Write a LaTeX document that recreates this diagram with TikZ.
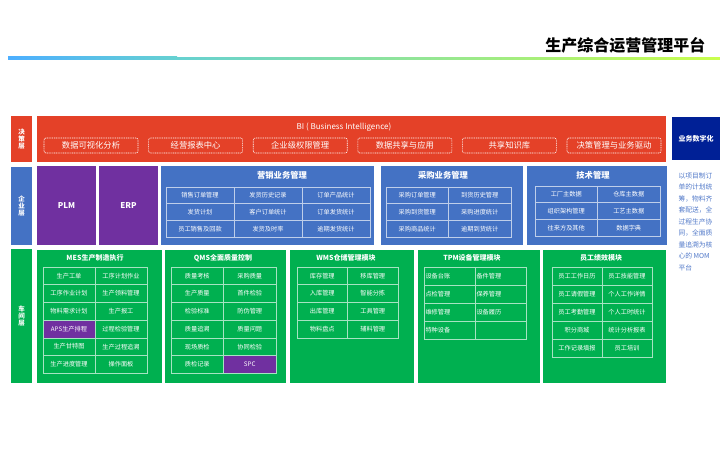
\documentclass[tikz,border=0pt]{standalone}
\usepackage{fontspec}
\setmainfont{Noto Sans CJK SC}
\usepackage{xcolor}
\usetikzlibrary{chains,positioning}

\definecolor{bired}{RGB}{228,65,40}
\definecolor{entblue}{RGB}{68,114,196}
\definecolor{shopgreen}{RGB}{0,176,80}
\definecolor{modpurple}{RGB}{112,48,160}
\definecolor{navyblue}{RGB}{0,32,150}
\definecolor{descblue}{RGB}{80,120,200}

\begin{document}
\begin{tikzpicture}[x=1pt,y=-1pt]
\useasboundingbox (0,0) rectangle (720,450);

\tikzstyle{layerbox}=[anchor=north west,inner sep=0pt,outer sep=0pt]
\tikzstyle{sidetag}=[text=white,align=center,font=\bfseries\fontsize{6.5}{7}\selectfont]
\tikzstyle{bluetitle}=[text=white,font=\bfseries\fontsize{8.3}{9}\selectfont]
\tikzstyle{greentitle}=[text=white,font=\bfseries\fontsize{7}{8}\selectfont]
\tikzstyle{bicell}=[draw=white,dash pattern=on 1pt off 0.8pt,rounded corners=2pt,line width=0.6pt,minimum width=94pt,minimum height=15pt,text=white,font=\fontsize{8.3}{9}\selectfont]
\tikzstyle{tcell}=[draw,line width=0.5pt,inner sep=0pt,text=white,font=\fontsize{6.2}{7}\selectfont]
\tikzstyle{bcell}=[tcell,draw=white!65!entblue,minimum height=16.7pt]
\tikzstyle{gcell}=[tcell,draw=white!65!shopgreen,minimum height=17.7pt]
\tikzstyle{salescell}=[bcell,minimum width=68pt]
\tikzstyle{buycell}=[bcell,minimum width=62.5pt]
\tikzstyle{mescell}=[gcell,minimum width=52pt]
\tikzstyle{qmscell}=[gcell,minimum width=52.5pt]
\tikzstyle{wmscell}=[gcell,minimum width=50.5pt]
\tikzstyle{tpmcell}=[gcell,minimum height=18pt,text width=48pt,inner xsep=1.5pt,align=left]
\tikzstyle{staffcell}=[gcell,minimum height=18pt,minimum width=50pt]

%% Title and rule
\node [anchor=east,font=\bfseries\fontsize{16}{18}\selectfont] (title) at (709,45) {生产综合运营管理平台};
\shade [left color=blue!45!cyan!70, right color=cyan!40!teal!60] (8,56.8) rectangle (177,59.4);
\shade [left color=cyan!40!teal!60, right color=yellow!70!green!70] (177,57.8) rectangle (720,59.2);

%% Decision layer
\node [layerbox,sidetag,fill=bired,minimum width=21pt,minimum height=46pt] (dtag) at (11,116) {决\\策\\层};
\node [layerbox,fill=bired,minimum width=629pt,minimum height=46pt] (bi) at (37,116) {};
\node [text=white,font=\fontsize{8}{9}\selectfont] (bititle) at (344,127) {BI ( Business Intelligence)};
\begin{scope}[shift={(91,145.5)},start chain=1 going right,node distance=10pt]
    \node [on chain=1,bicell] (bi1) {数据可视化分析};
    \node [on chain=1,bicell] (bi2) {经营报表中心};
    \node [on chain=1,bicell] (bi3) {企业级权限管理};
    \node [on chain=1,bicell] (bi4) {数据共享与应用};
    \node [on chain=1,bicell] (bi5) {共享知识库};
    \node [on chain=1,bicell] (bi6) {决策管理与业务驱动};
\end{scope}
\node [layerbox,fill=navyblue,text=white,font=\bfseries\fontsize{7}{8}\selectfont,minimum width=48pt,minimum height=43pt] (digital) at (672,117) {业务数字化};
\node [anchor=north west,align=left,text=descblue,font=\fontsize{6.8}{11.5}\selectfont] (desc) at (675,169)
    {以项目制订\\单的计划统\\筹，物料齐\\套配送，全\\过程生产协\\同，全面质\\量追溯为核\\心的 MOM\\平台};

%% Enterprise layer
\node [layerbox,sidetag,fill=entblue,minimum width=21pt,minimum height=78pt] (etag) at (11,167) {企\\业\\层};
\node [layerbox,fill=modpurple,text=white,font=\bfseries\fontsize{8}{9}\selectfont,minimum width=59pt,minimum height=79pt] (plm) at (37,166) {PLM};
\node [layerbox,fill=modpurple,text=white,font=\bfseries\fontsize{8}{9}\selectfont,minimum width=59pt,minimum height=79pt] (erp) at (99,166) {ERP};
\node [layerbox,fill=entblue,minimum width=213pt,minimum height=79pt] (sales) at (161,166) {};
\node [layerbox,fill=entblue,minimum width=142pt,minimum height=79pt] (buy) at (381,166) {};
\node [layerbox,fill=entblue,minimum width=140pt,minimum height=79pt] (tech) at (527,166) {};
\node [bluetitle] (salestitle) at (282,175) {营销业务管理};
\node [bluetitle] (buytitle) at (443,175) {采购业务管理};
\node [bluetitle] (techtitle) at (593,175) {技术管理};

\begin{scope}[shift={(200,195.35)},start chain=1 going below,node distance=-0.5pt]
    \node [on chain=1,salescell] (sa1) {销售订单管理};
    \node [on chain=1,salescell] (sa2) {发货计划};
    \node [on chain=1,salescell] (sa3) {员工销售及回款};
\end{scope}
\begin{scope}[shift={(268,195.35)},start chain=1 going below,node distance=-0.5pt]
    \node [on chain=1,salescell] (sb1) {发货历史记录};
    \node [on chain=1,salescell] (sb2) {客户订单统计};
    \node [on chain=1,salescell] (sb3) {发货及时率};
\end{scope}
\begin{scope}[shift={(336,195.35)},start chain=1 going below,node distance=-0.5pt]
    \node [on chain=1,salescell] (sc1) {订单产品统计};
    \node [on chain=1,salescell] (sc2) {订单发货统计};
    \node [on chain=1,salescell] (sc3) {逾期发货统计};
\end{scope}

\begin{scope}[shift={(417.25,195.35)},start chain=1 going below,node distance=-0.5pt]
    \node [on chain=1,buycell] (pa1) {采购订单管理};
    \node [on chain=1,buycell] (pa2) {采购到货管理};
    \node [on chain=1,buycell] (pa3) {采购商品统计};
\end{scope}
\begin{scope}[shift={(479.75,195.35)},start chain=1 going below,node distance=-0.5pt]
    \node [on chain=1,buycell] (pb1) {到货历史管理};
    \node [on chain=1,buycell] (pb2) {采购进度统计};
    \node [on chain=1,buycell] (pb3) {逾期到货统计};
\end{scope}

\begin{scope}[shift={(566.25,194.35)},start chain=1 going below,node distance=-0.5pt]
    \node [on chain=1,buycell] (ta1) {工厂主数据};
    \node [on chain=1,buycell] (ta2) {组织架构管理};
    \node [on chain=1,buycell] (ta3) {往来方及其他};
\end{scope}
\begin{scope}[shift={(628.75,194.35)},start chain=1 going below,node distance=-0.5pt]
    \node [on chain=1,buycell] (tb1) {仓库主数据};
    \node [on chain=1,buycell] (tb2) {工艺主数据};
    \node [on chain=1,buycell] (tb3) {数据字典};
\end{scope}

%% Shop floor layer
\node [layerbox,sidetag,fill=shopgreen,minimum width=21pt,minimum height=134pt] (stag) at (11,249) {车\\间\\层};
\node [layerbox,fill=shopgreen,minimum width=125pt,minimum height=133pt] (mes) at (37,250) {};
\node [layerbox,fill=shopgreen,minimum width=121pt,minimum height=133pt] (qms) at (165,250) {};
\node [layerbox,fill=shopgreen,minimum width=124pt,minimum height=133pt] (wms) at (290,250) {};
\node [layerbox,fill=shopgreen,minimum width=122pt,minimum height=133pt] (tpm) at (418,250) {};
\node [layerbox,fill=shopgreen,minimum width=123pt,minimum height=133pt] (staff) at (543,250) {};
\node [greentitle] (mestitle) at (95,258) {MES生产制造执行};
\node [greentitle] (qmstitle) at (223,258) {QMS全面质量控制};
\node [greentitle] (wmstitle) at (346,258) {WMS仓储管理模块};
\node [greentitle] (tpmtitle) at (472,258) {TPM设备管理模块};
\node [greentitle] (stafftitle) at (601,258) {员工绩效模块};

\begin{scope}[shift={(69,275.85)},start chain=1 going below,node distance=-0.5pt]
    \node [on chain=1,mescell] (ma1) {生产工单};
    \node [on chain=1,mescell] (ma2) {工序作业计划};
    \node [on chain=1,mescell] (ma3) {物料需求计划};
    \node [on chain=1,mescell,fill=modpurple] (ma4) {APS生产排程};
    \node [on chain=1,mescell] (ma5) {生产甘特图};
    \node [on chain=1,mescell] (ma6) {生产进度管理};
\end{scope}
\begin{scope}[shift={(121,275.85)},start chain=1 going below,node distance=-0.5pt]
    \node [on chain=1,mescell] (mb1) {工序计划作业};
    \node [on chain=1,mescell] (mb2) {生产领料管理};
    \node [on chain=1,mescell] (mb3) {生产报工};
    \node [on chain=1,mescell] (mb4) {过程检验管理};
    \node [on chain=1,mescell] (mb5) {生产过程追溯};
    \node [on chain=1,mescell] (mb6) {操作面板};
\end{scope}

\begin{scope}[shift={(197.25,275.85)},start chain=1 going below,node distance=-0.5pt]
    \node [on chain=1,qmscell] (qa1) {质量考核};
    \node [on chain=1,qmscell] (qa2) {生产质量};
    \node [on chain=1,qmscell] (qa3) {检验标准};
    \node [on chain=1,qmscell] (qa4) {质量追溯};
    \node [on chain=1,qmscell] (qa5) {现场质检};
    \node [on chain=1,qmscell] (qa6) {质检记录};
\end{scope}
\begin{scope}[shift={(249.75,275.85)},start chain=1 going below,node distance=-0.5pt]
    \node [on chain=1,qmscell] (qb1) {采购质量};
    \node [on chain=1,qmscell] (qb2) {首件检验};
    \node [on chain=1,qmscell] (qb3) {防伪管理};
    \node [on chain=1,qmscell] (qb4) {质量问题};
    \node [on chain=1,qmscell] (qb5) {协同检验};
    \node [on chain=1,qmscell,fill=modpurple] (qb6) {SPC};
\end{scope}

\begin{scope}[shift={(322.25,275.85)},start chain=1 going below,node distance=-0.5pt]
    \node [on chain=1,wmscell] (wa1) {库存管理};
    \node [on chain=1,wmscell] (wa2) {入库管理};
    \node [on chain=1,wmscell] (wa3) {出库管理};
    \node [on chain=1,wmscell] (wa4) {物料盘点};
\end{scope}
\begin{scope}[shift={(372.75,275.85)},start chain=1 going below,node distance=-0.5pt]
    \node [on chain=1,wmscell] (wb1) {移库管理};
    \node [on chain=1,wmscell] (wb2) {智能分拣};
    \node [on chain=1,wmscell] (wb3) {工具管理};
    \node [on chain=1,wmscell] (wb4) {辅料管理};
\end{scope}

\begin{scope}[shift={(449.5,276)},start chain=1 going below,node distance=-0.5pt]
    \node [on chain=1,tpmcell] (tpa1) {设备台账};
    \node [on chain=1,tpmcell] (tpa2) {点检管理};
    \node [on chain=1,tpmcell] (tpa3) {维修管理};
    \node [on chain=1,tpmcell] (tpa4) {特种设备};
\end{scope}
\begin{scope}[shift={(500.5,276)},start chain=1 going below,node distance=-0.5pt]
    \node [on chain=1,tpmcell] (tpb1) {备件管理};
    \node [on chain=1,tpmcell] (tpb2) {保养管理};
    \node [on chain=1,tpmcell] (tpb3) {设备履历};
    \node [on chain=1,tpmcell] (tpb4) {};
\end{scope}

\begin{scope}[shift={(577,276)},start chain=1 going below,node distance=-0.5pt]
    \node [on chain=1,staffcell] (sta1) {员工工作日历};
    \node [on chain=1,staffcell] (sta2) {员工请假管理};
    \node [on chain=1,staffcell] (sta3) {员工考勤管理};
    \node [on chain=1,staffcell] (sta4) {积分商城};
    \node [on chain=1,staffcell] (sta5) {工作记录填报};
\end{scope}
\begin{scope}[shift={(627,276)},start chain=1 going below,node distance=-0.5pt]
    \node [on chain=1,staffcell] (stb1) {员工技能管理};
    \node [on chain=1,staffcell] (stb2) {个人工作详情};
    \node [on chain=1,staffcell] (stb3) {个人工时统计};
    \node [on chain=1,staffcell] (stb4) {统计分析报表};
    \node [on chain=1,staffcell] (stb5) {员工培训};
\end{scope}

\end{tikzpicture}
\end{document}
